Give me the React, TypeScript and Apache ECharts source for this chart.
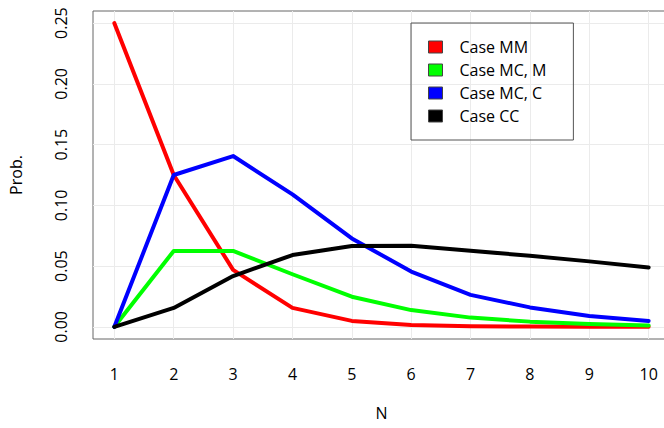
import React, { useEffect, useRef } from "react";
import * as echarts from "echarts";

const nValues = [1, 2, 3, 4, 5, 6, 7, 8, 9, 10];
const caseMM = [0.25, 0.125, 0.0469, 0.0156, 0.0049, 0.0015, 0.0005, 0.0002, 0.0001, 0.00003];
const caseMCM = [0, 0.0625, 0.0625, 0.0433, 0.0248, 0.0138, 0.0076, 0.0043, 0.0024, 0.0012];
const caseMCC = [0, 0.125, 0.1406, 0.109, 0.0728, 0.0455, 0.0263, 0.016, 0.0089, 0.0049];
const caseCC = [0, 0.0156, 0.0418, 0.0591, 0.0665, 0.0667, 0.0626, 0.0585, 0.0539, 0.0489];

const xTicks = [1, 2, 3, 4, 5, 6, 7, 8, 9, 10];
const yTicks = [0, 0.05, 0.1, 0.15, 0.2, 0.25];

const seriesNames = ["Case MM", "Case MC, M", "Case MC, C", "Case CC"];
const seriesColors = ["#ff0000", "#00ff00", "#0000ff", "#000000"];
const seriesValues = [caseMM, caseMCM, caseMCC, caseCC];

const FONT = "'Open Sans', sans-serif";

export default function App() {
  const ref = useRef<HTMLDivElement>(null);
  useEffect(() => {
    if (!ref.current) return;
    const chart = echarts.init(ref.current, null, { renderer: "svg" });
    chart.setOption({
      animation: false,
      backgroundColor: "#ffffff",
      textStyle: { fontFamily: FONT },
      grid: {
        left: 93,
        top: 11,
        right: -6,
        bottom: 89,
        containLabel: false,
        outerBoundsMode: "none",
        show: true,
        borderColor: "#666666",
        borderWidth: 1,
      },
      legend: {
        orient: "vertical",
        left: 411,
        top: 23,
        icon: "rect",
        itemWidth: 14,
        itemHeight: 12,
        itemGap: 7,
        padding: [16, 27, 16, 17],
        borderColor: "#555555",
        borderWidth: 1,
        itemStyle: { borderColor: "#444444", borderWidth: 1 },
        textStyle: { fontSize: 16, color: "#000", fontFamily: FONT, padding: [0, 0, 0, 12] },
        data: seriesNames,
      },
      xAxis: {
        type: "value",
        min: 0.64,
        max: 10.36,
        name: "N",
        nameLocation: "middle",
        nameGap: 66,
        nameTextStyle: { fontSize: 16, lineHeight: 16, color: "#000", fontFamily: FONT },
        axisLine: { show: false },
        axisTick: { show: false, customValues: xTicks },
        axisLabel: {
          fontSize: 16,
          color: "#000",
          margin: 27,
          customValues: xTicks,
          formatter: (v: number) => String(Math.round(v)),
        },
        splitLine: { show: true, lineStyle: { color: "#ebebeb", width: 1 } },
      },
      yAxis: {
        type: "value",
        min: -0.01,
        max: 0.26,
        name: "Prob.",
        nameLocation: "middle",
        nameGap: 69,
        nameTextStyle: { fontSize: 16, color: "#000", fontFamily: FONT },
        axisLine: { show: false },
        axisTick: { show: false, customValues: yTicks },
        axisLabel: {
          fontSize: 16,
          color: "#000",
          rotate: 90,
          margin: 24,
          customValues: yTicks,
          formatter: (v: number) => v.toFixed(2),
        },
        splitLine: { show: true, lineStyle: { color: "#ebebeb", width: 1 } },
      },
      series: seriesNames.map((name, i) => ({
        name,
        type: "line",
        data: nValues.map((n, j) => [n, seriesValues[i][j]]),
        showSymbol: false,
        symbol: "none",
        color: seriesColors[i],
        lineStyle: { color: seriesColors[i], width: 4, join: "round", cap: "round" },
        itemStyle: { color: seriesColors[i] },
      })),
    });
    return () => chart.dispose();
  }, []);
  return (
    <div
      ref={ref}
      style={{ position: "fixed", left: 0, top: 0, width: 664, height: 428, background: "#fff" }}
    />
  );
}
